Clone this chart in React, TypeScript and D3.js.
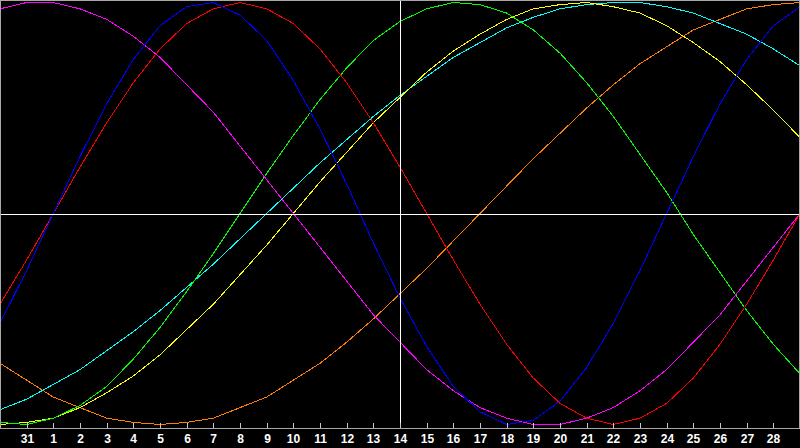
import React from "react";
import { scaleLinear, line, range } from "d3";

// day labels under the ticks (t = 1..29); today is the 14th
const dayLabels = ["31", "1", "2", "3", "4", "5", "6", "7", "8", "9", "10", "11", "12", "13", "14",
  "15", "16", "17", "18", "19", "20", "21", "22", "23", "24", "25", "26", "27", "28"];
const todayIndex = 15;

// cycle values, one per day (t = 0..30)
const blue23 = [-0.52, -0.27, 0, 0.27, 0.52, 0.73, 0.89, 0.98, 1.0, 0.94, 0.82, 0.63, 0.4, 0.14, -0.14, -0.4,
  -0.63, -0.82, -0.94, -1.0, -0.98, -0.89, -0.73, -0.52, -0.27, 0, 0.27, 0.52, 0.73, 0.89, 0.98];
const red28 = [-0.43, -0.22, 0, 0.22, 0.43, 0.62, 0.78, 0.9, 0.97, 1.0, 0.97, 0.9, 0.78, 0.62, 0.43, 0.22,
  0, -0.22, -0.43, -0.62, -0.78, -0.9, -0.97, -1.0, -0.97, -0.9, -0.78, -0.62, -0.43, -0.22, 0];
const green33 = [-0.99, -1.0, -0.97, -0.91, -0.82, -0.69, -0.54, -0.37, -0.19, 0, 0.19, 0.37, 0.54, 0.69, 0.82, 0.91,
  0.97, 1.0, 0.99, 0.95, 0.87, 0.76, 0.62, 0.46, 0.28, 0.1, -0.1, -0.28, -0.46, -0.62, -0.76];
const magenta38 = [0.97, 1.0, 1.0, 0.97, 0.92, 0.84, 0.74, 0.61, 0.48, 0.32, 0.16, 0, -0.16, -0.32, -0.48, -0.61,
  -0.74, -0.84, -0.92, -0.97, -1.0, -1.0, -0.97, -0.92, -0.84, -0.74, -0.61, -0.48, -0.32, -0.16, 0];
const yellow43 = [-1.0, -0.99, -0.97, -0.92, -0.85, -0.77, -0.67, -0.55, -0.43, -0.29, -0.15, 0, 0.15, 0.29, 0.43, 0.55,
  0.67, 0.77, 0.85, 0.92, 0.97, 0.99, 1.0, 0.98, 0.95, 0.89, 0.81, 0.72, 0.61, 0.49, 0.36];
const orange48 = [-0.71, -0.79, -0.87, -0.92, -0.97, -0.99, -1.0, -0.99, -0.97, -0.92, -0.87, -0.79, -0.71, -0.61, -0.5, -0.38,
  -0.26, -0.13, 0, 0.13, 0.26, 0.38, 0.5, 0.61, 0.71, 0.79, 0.87, 0.92, 0.97, 0.99, 1.0];
const cyan53 = [-0.93, -0.88, -0.81, -0.74, -0.65, -0.56, -0.46, -0.35, -0.24, -0.12, 0, 0.12, 0.24, 0.35, 0.46, 0.56,
  0.65, 0.74, 0.81, 0.88, 0.93, 0.97, 0.99, 1.0, 1.0, 0.98, 0.95, 0.9, 0.85, 0.78, 0.7];

const series = [
  { name: "orange", color: "#ff8000", values: orange48 },
  { name: "cyan", color: "#00ffff", values: cyan53 },
  { name: "yellow", color: "#ffff00", values: yellow43 },
  { name: "green", color: "#00ff00", values: green33 },
  { name: "magenta", color: "#ff00ff", values: magenta38 },
  { name: "red", color: "#ff0000", values: red28 },
  { name: "blue", color: "#0000ff", values: blue23 },
];

const width = 800;
const height = 448;
const plotBottom = 428;

export default function App() {
  const x = scaleLinear().domain([0, 30]).range([0, width]);
  const y = scaleLinear().domain([-1, 1]).range([424.5, 2.5]);

  const path = line<number>()
    .x((_, i) => x(i))
    .y((d) => y(d));

  const ticks = range(1, 30);

  return (
    <svg
      width={width}
      height={height}
      viewBox={`0 0 ${width} ${height}`}
      style={{ position: "absolute", left: 0, top: 0, background: "#000", display: "block" }}
    >
      <rect x={0} y={0} width={width} height={height} fill="#000" />

      {/* curves */}
      <g fill="none" strokeWidth={1} shapeRendering="crispEdges">
        {series.map((s) => (
          <path key={s.name} d={path(s.values) ?? ""} stroke={s.color} />
        ))}
      </g>

      {/* centre line and today */}
      <g stroke="#fff" strokeWidth={1} shapeRendering="crispEdges">
        <line x1={0} x2={width} y1={214.5} y2={214.5} />
        <line x1={x(todayIndex) + 0.5} x2={x(todayIndex) + 0.5} y1={0} y2={plotBottom} />
      </g>

      {/* frame */}
      <rect
        x={0.5}
        y={0.5}
        width={width - 1}
        height={plotBottom}
        fill="none"
        stroke="#a8a8a8"
        shapeRendering="crispEdges"
      />

      {/* axis ticks and labels */}
      <g>
        {ticks.map((t, i) => (
          <g key={t} transform={`translate(${Math.round(x(t)) + 0.5},0)`}>
            <line y1={423} y2={428} stroke="#c8c8c8" shapeRendering="crispEdges" />
            <text
              y={443}
              textAnchor="middle"
              fill="#fff"
              fontFamily="Liberation Sans, Arial, sans-serif"
              fontWeight="bold"
              fontSize={12}
            >
              {dayLabels[i]}
            </text>
          </g>
        ))}
      </g>
    </svg>
  );
}
